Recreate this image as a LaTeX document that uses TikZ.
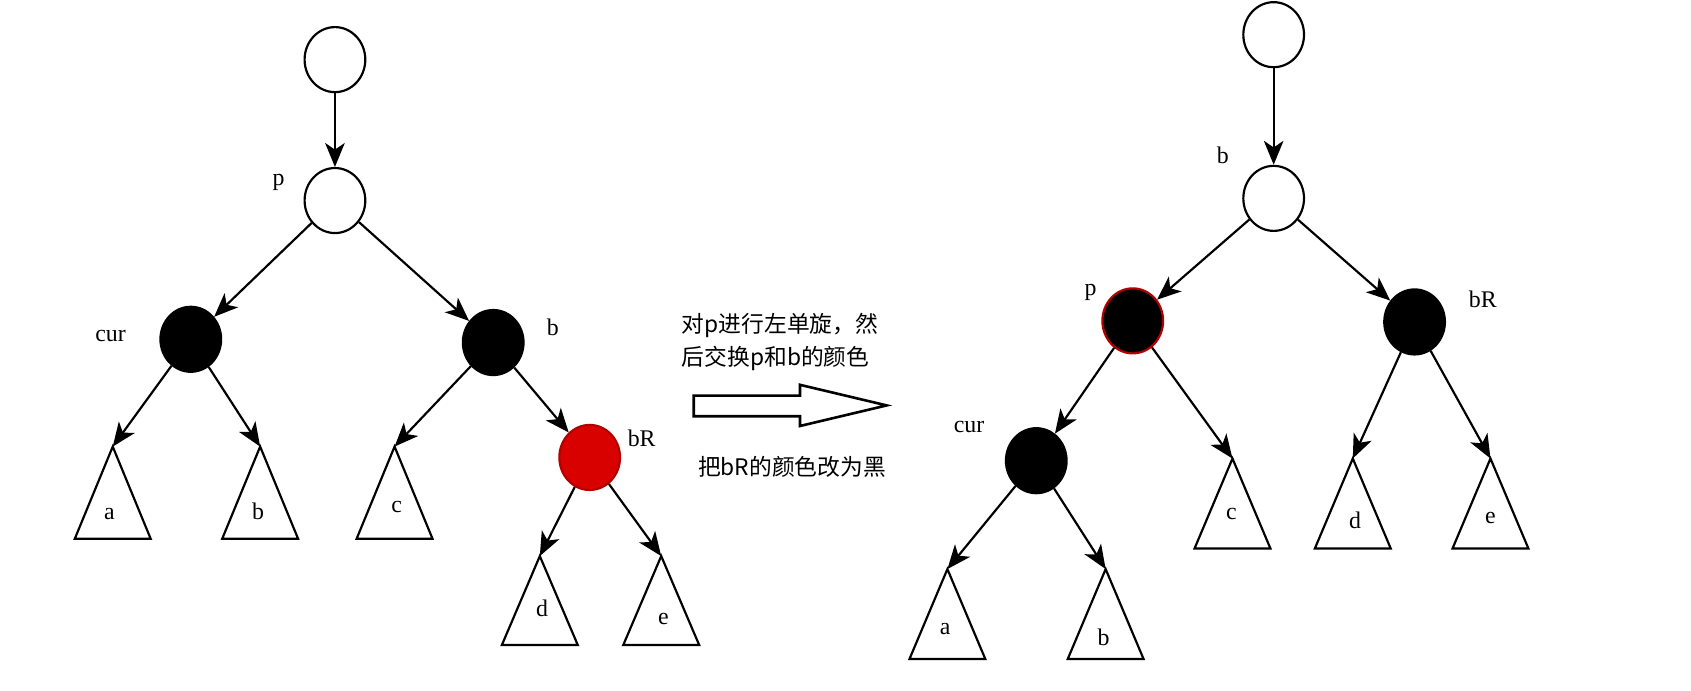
\documentclass[tikz,border=0pt]{standalone}
\usepackage{fontspec}
\setmainfont{Liberation Serif}
\newfontfamily\cjk{Noto Sans CJK SC}
\usetikzlibrary{arrows.meta,shapes.geometric,calc}
\tikzset{
 nd/.style={ellipse,draw,line width=1pt,minimum width=28pt,minimum height=30pt,inner sep=0pt},
 wn/.style={nd,fill=white},
 bn/.style={nd,fill=black},
 rn/.style={nd,fill=red!85!black,draw=red!70!black},
 pn/.style={nd,fill=black,draw=red!70!black},
 ed/.style={line width=1pt,-{Stealth[length=11pt,width=9pt,inset=3pt]}},
 tr/.style={line width=1pt},
 lb/.style={font=\fontsize{11}{13}\selectfont},
 tx/.style={font=\cjk\fontsize{10.5}{15}\selectfont,align=left}
}
\begin{document}
\begin{tikzpicture}[x=0.5pt,y=-0.5pt]
\useasboundingbox (0,0) rectangle (1560,637);
% left tree
\node[wn] (r1) at (309,55) {};
\node[wn] (p1) at (309,185) {};
\node[lb] (p1l) at (257,168) {p};
\node[bn] (c1) at (176,313) {};
\node[lb] (c1l) at (102,310) {cur};
\node[bn] (b1) at (455,316) {};
\node[lb] (b1l) at (510,302) {b};
\node[rn] (R1) at (544,422) {};
\node[lb] (R1l) at (592,404) {bR};
\coordinate (ta1) at (104,412);
\draw[tr] (ta1) -- (69,497) -- (139,497) -- cycle;
\node[lb] (ta1l) at (101,474) {a};
\coordinate (tb1) at (240,412);
\draw[tr] (tb1) -- (205,497) -- (275,497) -- cycle;
\node[lb] (tb1l) at (238,472) {b};
\coordinate (tc1) at (364,412);
\draw[tr] (tc1) -- (329,497) -- (399,497) -- cycle;
\node[lb] (tc1l) at (366,468) {c};
\coordinate (td1) at (498,513);
\draw[tr] (td1) -- (463,595) -- (533,595) -- cycle;
\node[lb] (td1l) at (500,561) {d};
\coordinate (te1) at (610,513);
\draw[tr] (te1) -- (575,595) -- (645,595) -- cycle;
\node[lb] (te1l) at (612,571) {e};
\draw[ed] (r1) -- (p1);
\draw[ed] (p1) -- (c1);
\draw[ed] (p1) -- (b1);
\draw[ed] (c1) -- (ta1);
\draw[ed] (c1) -- (tb1);
\draw[ed] (b1) -- (tc1);
\draw[ed] (b1) -- (R1);
\draw[ed] (R1) -- (td1);
\draw[ed] (R1) -- (te1);
% middle
\node[tx,anchor=north west] (t1) at (622,282) {对p进行左单旋，然\\后交换p和b的颜色};
\node[tx,anchor=west] (t2) at (637,431) {把bR的颜色改为黑};
\draw[line width=1.2pt] (640,365) -- (738,365) -- (738,355) -- (818,374) -- (738,393) -- (738,384) -- (640,384) -- cycle;
% right tree
\node[wn] (r2) at (1175,32) {};
\node[wn] (b2) at (1175,183) {};
\node[lb] (b2l) at (1128,143) {b};
\node[pn] (p2) at (1045,296) {};
\node[lb] (p2l) at (1006,270) {p};
\node[bn] (R2) at (1305,297) {};
\node[lb] (R2l) at (1368,276) {bR};
\node[bn] (c2) at (956,425) {};
\node[lb] (c2l) at (894,394) {cur};
\coordinate (tc2) at (1137,423);
\draw[tr] (tc2) -- (1102,506) -- (1172,506) -- cycle;
\node[lb] (tc2l) at (1136,474) {c};
\coordinate (td2) at (1248,423);
\draw[tr] (td2) -- (1213,506) -- (1283,506) -- cycle;
\node[lb] (td2l) at (1250,480) {d};
\coordinate (te2) at (1375,423);
\draw[tr] (te2) -- (1340,506) -- (1410,506) -- cycle;
\node[lb] (te2l) at (1375,478) {e};
\coordinate (ta2) at (874,525);
\draw[tr] (ta2) -- (839,608) -- (909,608) -- cycle;
\node[lb] (ta2l) at (872,580) {a};
\coordinate (tb2) at (1020,525);
\draw[tr] (tb2) -- (985,608) -- (1055,608) -- cycle;
\node[lb] (tb2l) at (1018,588) {b};
\draw[ed] (r2) -- (b2);
\draw[ed] (b2) -- (p2);
\draw[ed] (b2) -- (R2);
\draw[ed] (p2) -- (c2);
\draw[ed] (p2) -- (tc2);
\draw[ed] (R2) -- (td2);
\draw[ed] (R2) -- (te2);
\draw[ed] (c2) -- (ta2);
\draw[ed] (c2) -- (tb2);
\end{tikzpicture}
\end{document}
